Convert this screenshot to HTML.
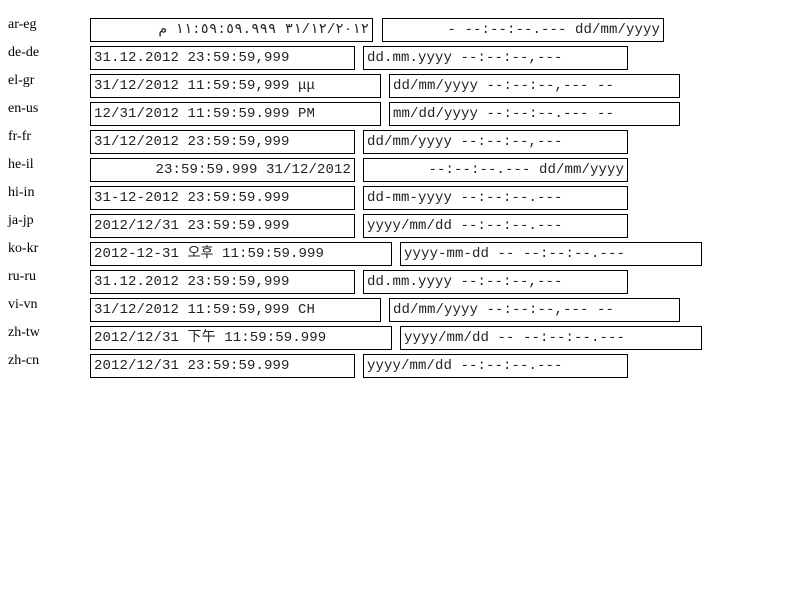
<!DOCTYPE html>
<html><head><meta charset="utf-8"><style>
body{margin:0;width:800px;height:600px;background:#fff;position:relative;overflow:hidden}
.l{position:absolute;left:8px;font:14px "Liberation Serif","Noto Serif CJK SC",serif;color:#000}
.b{position:absolute;height:22px;border:1px solid #000;box-sizing:content-box;font:14px/22px "Liberation Mono","Noto Sans CJK KR",monospace;letter-spacing:0.1px;color:#222;padding:0 3px;white-space:pre;overflow:hidden}
.r{text-align:right}
</style></head><body>
<div class="l" style="top:17px">ar-eg</div>
<div class="b r" style="top:18px;left:90px;width:275px" dir="rtl">٣١/١٢/٢٠١٢ ١١:٥٩:٥٩.٩٩٩ م</div>
<div class="b r" style="top:18px;left:382px;width:274px">- --:--:--.--- dd/mm/yyyy</div>

<div class="l" style="top:45px">de-de</div>
<div class="b" style="top:46px;left:90px;width:257px">31.12.2012 23:59:59,999</div>
<div class="b" style="top:46px;left:363px;width:257px">dd.mm.yyyy --:--:--,---</div>

<div class="l" style="top:73px">el-gr</div>
<div class="b" style="top:74px;left:90px;width:283px">31/12/2012 11:59:59,999 μμ</div>
<div class="b" style="top:74px;left:389px;width:283px">dd/mm/yyyy --:--:--,--- --</div>

<div class="l" style="top:101px">en-us</div>
<div class="b" style="top:102px;left:90px;width:283px">12/31/2012 11:59:59.999 PM</div>
<div class="b" style="top:102px;left:389px;width:283px">mm/dd/yyyy --:--:--.--- --</div>

<div class="l" style="top:129px">fr-fr</div>
<div class="b" style="top:130px;left:90px;width:257px">31/12/2012 23:59:59,999</div>
<div class="b" style="top:130px;left:363px;width:257px">dd/mm/yyyy --:--:--,---</div>

<div class="l" style="top:157px">he-il</div>
<div class="b r" style="top:158px;left:90px;width:257px">23:59:59.999 31/12/2012</div>
<div class="b r" style="top:158px;left:363px;width:257px">--:--:--.--- dd/mm/yyyy</div>

<div class="l" style="top:185px">hi-in</div>
<div class="b" style="top:186px;left:90px;width:257px">31-12-2012 23:59:59.999</div>
<div class="b" style="top:186px;left:363px;width:257px">dd-mm-yyyy --:--:--.---</div>

<div class="l" style="top:213px">ja-jp</div>
<div class="b" style="top:214px;left:90px;width:257px">2012/12/31 23:59:59.999</div>
<div class="b" style="top:214px;left:363px;width:257px">yyyy/mm/dd --:--:--.---</div>

<div class="l" style="top:241px">ko-kr</div>
<div class="b" style="top:242px;left:90px;width:294px">2012-12-31 오후 11:59:59.999</div>
<div class="b" style="top:242px;left:400px;width:294px">yyyy-mm-dd -- --:--:--.---</div>

<div class="l" style="top:269px">ru-ru</div>
<div class="b" style="top:270px;left:90px;width:257px">31.12.2012 23:59:59,999</div>
<div class="b" style="top:270px;left:363px;width:257px">dd.mm.yyyy --:--:--,---</div>

<div class="l" style="top:297px">vi-vn</div>
<div class="b" style="top:298px;left:90px;width:283px">31/12/2012 11:59:59,999 CH</div>
<div class="b" style="top:298px;left:389px;width:283px">dd/mm/yyyy --:--:--,--- --</div>

<div class="l" style="top:325px">zh-tw</div>
<div class="b" style="top:326px;left:90px;width:294px">2012/12/31 下午 11:59:59.999</div>
<div class="b" style="top:326px;left:400px;width:294px">yyyy/mm/dd -- --:--:--.---</div>

<div class="l" style="top:353px">zh-cn</div>
<div class="b" style="top:354px;left:90px;width:257px">2012/12/31 23:59:59.999</div>
<div class="b" style="top:354px;left:363px;width:257px">yyyy/mm/dd --:--:--.---</div>
</body></html>
